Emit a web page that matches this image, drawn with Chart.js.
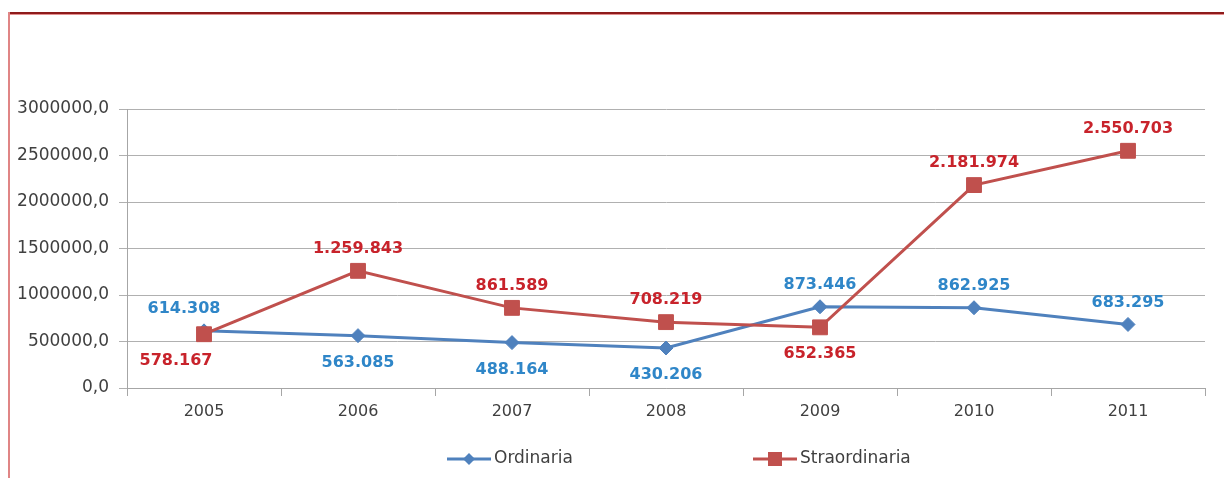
<!DOCTYPE html>
<html>
<head>
<meta charset="utf-8">
<script src="https://cdn.jsdelivr.net/npm/chart.js@4/dist/chart.umd.min.js"></script>
<style>
  html, body { margin: 0; padding: 0; background: #fff; }
  #wrap { position: relative; width: 1224px; height: 478px; overflow: hidden; }
  #frameTop { position: absolute; left: 8px; top: 12px; width: 1216px; height: 2px; background: #8e1b1b; border-bottom: 1px solid #e39090; }
  #frameLeft { position: absolute; left: 8px; top: 12px; width: 2px; height: 466px; background: #e08585; }
  canvas { position: absolute; left: 0; top: 0; }
</style>
</head>
<body>
<div id="wrap">
  <canvas id="c" width="1224" height="478"></canvas>
  <div id="frameTop"></div>
  <div id="frameLeft"></div>
</div>
<script>
const categories = ['2005', '2006', '2007', '2008', '2009', '2010', '2011'];
const ordinaria = [614308, 563085, 488164, 430206, 873446, 862925, 683295];
const straordinaria = [578167, 1259843, 861589, 708219, 652365, 2181974, 2550703];
const ordinariaLabelPos = ['above', 'below', 'below', 'below', 'above', 'above', 'above'];
const straordinariaLabelPos = ['below', 'above', 'above', 'above', 'below', 'above', 'above'];
const seriesNames = ['Ordinaria', 'Straordinaria'];
const yTicks = [0, 500000, 1000000, 1500000, 2000000, 2500000, 3000000];

const FONT = 'DejaVu Sans';
const BLUE = '#4F81BD', RED = '#C0504D';
const BLUE_LBL = '#2F86C8', RED_LBL = '#C8232B';

function fmtThousands(v) {
  return String(v).replace(/\B(?=(\d{3})+(?!\d))/g, '.');
}

const labelPlugin = {
  id: 'pointLabels',
  afterDatasetsDraw(chart) {
    const ctx = chart.ctx;
    ctx.save();
    ctx.font = 'bold 16px "' + FONT + '"';
    ctx.textAlign = 'center';
    ctx.textBaseline = 'middle';
    chart.data.datasets.forEach((ds, di) => {
      const meta = chart.getDatasetMeta(di);
      ctx.fillStyle = ds.labelColor;
      meta.data.forEach((pt, i) => {
        const pos = ds.labelPos[i];
        const dy = pos === 'above' ? -22 : 27;
        const dx = i === 0 ? ds.firstLabelShift : 0;
        ctx.fillText(fmtThousands(ds.data[i]), pt.x + dx, pt.y + dy);
      });
    });
    ctx.restore();
  }
};

const legendPlugin = {
  id: 'customLegend',
  afterDraw(chart) {
    const ctx = chart.ctx;
    ctx.save();
    const y = 459;
    const items = [
      { x: 447, ds: chart.data.datasets[0] },
      { x: 753, ds: chart.data.datasets[1] }
    ];
    items.forEach(it => {
      ctx.strokeStyle = it.ds.borderColor;
      ctx.lineWidth = 3;
      ctx.beginPath();
      ctx.moveTo(it.x, y);
      ctx.lineTo(it.x + 44, y);
      ctx.stroke();
      const cx = it.x + 22;
      ctx.fillStyle = it.ds.borderColor;
      if (it.ds.pointStyle === 'rectRot') {
        ctx.beginPath();
        ctx.moveTo(cx, y - 6); ctx.lineTo(cx + 6, y); ctx.lineTo(cx, y + 6); ctx.lineTo(cx - 6, y);
        ctx.closePath(); ctx.fill();
      } else {
        ctx.fillRect(cx - 7, y - 7, 14, 14);
      }
      ctx.fillStyle = '#404040';
      ctx.font = '17px "' + FONT + '"';
      ctx.textAlign = 'left';
      ctx.textBaseline = 'middle';
      ctx.fillText(it.ds.label, it.x + 47, y);
    });
    ctx.restore();
  }
};

new Chart(document.getElementById('c'), {
  type: 'line',
  data: {
    labels: categories,
    datasets: [
      {
        label: seriesNames[0],
        data: ordinaria,
        borderColor: BLUE,
        backgroundColor: BLUE,
        borderWidth: 3,
        pointStyle: 'rectRot',
        pointRadius: 7,
        pointBorderWidth: 1,
        tension: 0,
        labelColor: BLUE_LBL,
        labelPos: ordinariaLabelPos,
        firstLabelShift: -20,
        order: 2
      },
      {
        label: seriesNames[1],
        data: straordinaria,
        borderColor: RED,
        backgroundColor: RED,
        borderWidth: 3,
        pointStyle: 'rect',
        pointRadius: 10.5,
        pointBorderWidth: 1,
        tension: 0,
        labelColor: RED_LBL,
        labelPos: straordinariaLabelPos,
        firstLabelShift: -28,
        order: 1
      }
    ]
  },
  options: {
    responsive: false,
    animation: false,
    devicePixelRatio: 1,
    layout: { padding: { left: 0, right: 19, top: 109, bottom: 50 } },
    plugins: { legend: { display: false }, tooltip: { enabled: false } },
    scales: {
      x: {
        offset: true,
        grid: { offset: true, drawOnChartArea: false, drawTicks: true, tickLength: 8, color: '#a6a6a6', lineWidth: 1 },
        border: { display: true, color: '#a6a6a6', width: 1 },
        ticks: { color: '#404040', font: { family: FONT, size: 16 }, padding: 6, maxRotation: 0 },
        afterFit(scale) { scale.height = 40; }
      },
      y: {
        min: 0,
        max: 3000000,
        afterBuildTicks(scale) { scale.ticks = yTicks.map(v => ({ value: v })); },
        grid: { drawTicks: true, tickLength: 8, color: '#b0b0b0', lineWidth: 1 },
        border: { display: true, color: '#a6a6a6', width: 1 },
        ticks: {
          color: '#404040',
          font: { family: FONT, size: 17 },
          padding: 10,
          callback: v => v.toFixed(1).replace('.', ',')
        },
        afterFit(scale) { scale.width = 127; }
      }
    }
  },
  plugins: [labelPlugin, legendPlugin]
});
</script>
</body>
</html>
